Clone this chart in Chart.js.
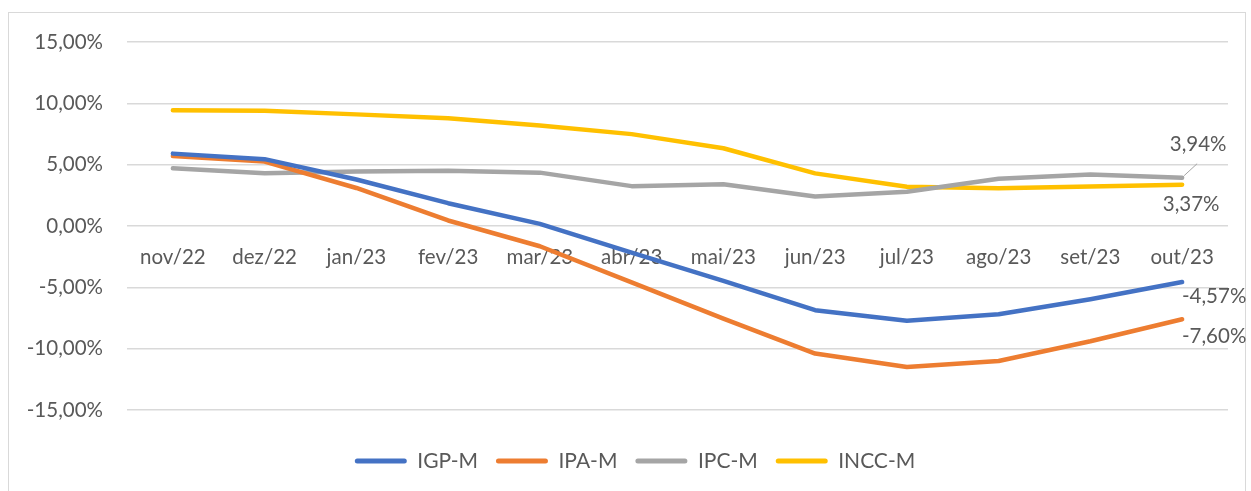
<!DOCTYPE html>
<html>
<head>
<meta charset="utf-8">
<script src="https://cdn.jsdelivr.net/npm/chart.js@4.4.0/dist/chart.umd.min.js"></script>
<style>
  html, body { margin: 0; padding: 0; background: #fff; }
  #wrap { position: relative; width: 1251px; height: 491px; overflow: hidden; }
  #frame { position: absolute; left: 8px; top: 12px; width: 1236px; height: 500px; border: 1px solid #d9d9d9; }
  #chart { position: absolute; left: 0; top: 0; }
</style>
</head>
<body>
<div id="wrap">
  <div id="frame"></div>
  <canvas id="chart" width="1251" height="491"></canvas>
</div>
<script>
// Índices de preços - acumulado em 12 meses
const months = ['nov/22', 'dez/22', 'jan/23', 'fev/23', 'mar/23', 'abr/23', 'mai/23', 'jun/23', 'jul/23', 'ago/23', 'set/23', 'out/23'];
const igpM = [5.90, 5.45, 3.79, 1.86, 0.17, -2.17, -4.47, -6.86, -7.72, -7.20, -5.97, -4.57];
const ipaM = [5.70, 5.25, 3.10, 0.45, -1.65, -4.60, -7.55, -10.40, -11.50, -11.00, -9.40, -7.60];
const ipcM = [4.70, 4.30, 4.45, 4.50, 4.35, 3.25, 3.40, 2.40, 2.80, 3.85, 4.20, 3.94];
const inccM = [9.43, 9.39, 9.10, 8.79, 8.19, 7.49, 6.34, 4.29, 3.20, 3.07, 3.22, 3.37];

const FONT = 'Lato';
const TEXT = '#595959';

function pct(v) {
    return v.toFixed(2).replace('.', ',') + '%';
}

// labels only on the last point of each line
const endLabels = {
    'IGP-M': { dx: 32, dy: 14 },
    'IPA-M': { dx: 32, dy: 17 },
    'IPC-M': { dx: 16, dy: -33, leader: true },
    'INCC-M': { dx: 9, dy: 20 }
};

const endLabelPlugin = {
    id: 'endLabels',
    afterDatasetsDraw(chart) {
        const ctx = chart.ctx;
        ctx.save();
        ctx.font = '20.5px ' + FONT;
        ctx.fillStyle = TEXT;
        ctx.textAlign = 'center';
        ctx.textBaseline = 'middle';
        chart.data.datasets.forEach((ds, i) => {
            const cfg = endLabels[ds.label];
            if (!cfg) return;
            const meta = chart.getDatasetMeta(i);
            const last = ds.data.length - 1;
            const pt = meta.data[last];
            if (cfg.leader) {
                ctx.beginPath();
                ctx.strokeStyle = '#a5a5a5';
                ctx.lineWidth = 1;
                ctx.moveTo(pt.x + 2, pt.y - 2);
                ctx.lineTo(pt.x + 15, pt.y - 14);
                ctx.stroke();
            }
            ctx.fillText(pct(ds.data[last]), pt.x + cfg.dx, pt.y + cfg.dy);
        });
        ctx.restore();
    }
};

// the Excel legend sits a bit right of the plot centre
const legendShift = {
    id: 'legendShift',
    afterLayout(chart) {
        chart.legend.left += 21;
        chart.legend.right += 21;
    }
};

function series(label, data, color) {
    return {
        label: label,
        data: data,
        borderColor: color,
        backgroundColor: color,
        borderWidth: 4.5,
        borderCapStyle: 'round',
        borderJoinStyle: 'round',
        pointRadius: 0,
        pointHoverRadius: 0,
        tension: 0,
        fill: false
    };
}

new Chart(document.getElementById('chart'), {
    type: 'line',
    data: {
        labels: months,
        datasets: [
            series('IGP-M', igpM, '#4472c4'),
            series('IPA-M', ipaM, '#ed7d31'),
            series('IPC-M', ipcM, '#a5a5a5'),
            series('INCC-M', inccM, '#ffc000')
        ]
    },
    options: {
        responsive: false,
        animation: false,
        layout: { padding: { left: 0, top: 42, right: 23, bottom: 9.5 } },
        plugins: {
            tooltip: { enabled: false },
            legend: {
                position: 'bottom',
                title: { display: true, text: ' ', color: 'rgba(0,0,0,0)', font: { size: 10, lineHeight: 1 }, padding: { top: 12.5, bottom: 0 } },
                labels: {
                    color: TEXT,
                    font: { family: FONT, size: 21 },
                    boxWidth: 52,
                    boxHeight: 5,
                    padding: 18,
                    useBorderRadius: true,
                    borderRadius: 2.5,
                    generateLabels(chart) {
                        return Chart.defaults.plugins.legend.labels.generateLabels(chart)
                            .map(l => Object.assign(l, { lineWidth: 0 }));
                    }
                }
            }
        },
        scales: {
            x: {
                type: 'category',
                position: { y: 0 },
                offset: true,
                grid: { display: false, drawTicks: false },
                border: { display: false },
                ticks: { color: TEXT, font: { family: FONT, size: 20.5 }, padding: 19, maxRotation: 0, autoSkip: false }
            },
            y: {
                min: -15,
                max: 15,
                ticks: { stepSize: 5, color: TEXT, font: { family: FONT, size: 20.5 }, padding: 24, callback: v => pct(v) },
                grid: { color: '#d9d9d9', lineWidth: 1.5, drawTicks: false },
                border: { display: false },
                afterFit(scale) { scale.width = 127; }
            }
        }
    },
    plugins: [endLabelPlugin, legendShift]
});
</script>
</body>
</html>
